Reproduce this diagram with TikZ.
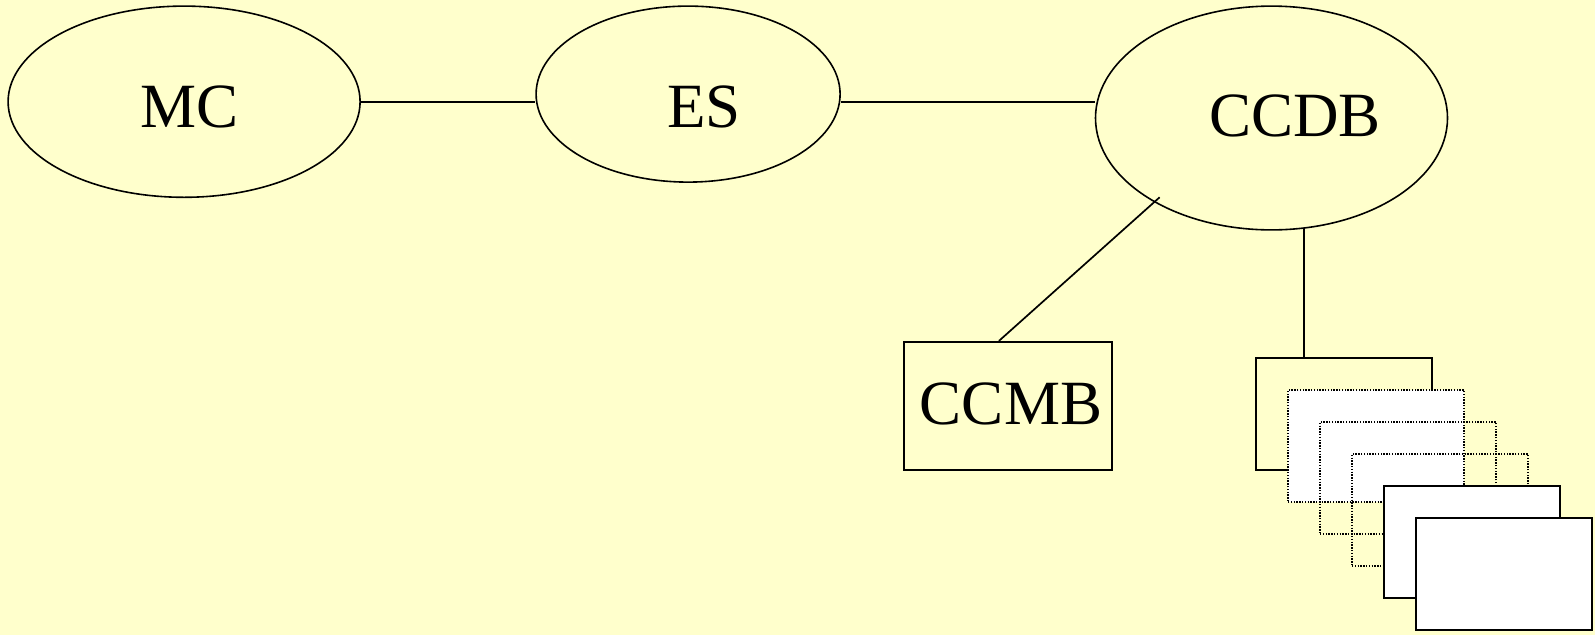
\documentclass[tikz,border=0pt]{standalone}
\usepackage{fontspec}
\setmainfont{Liberation Serif}
\usetikzlibrary{shapes.geometric,calc}
\definecolor{bg}{HTML}{FFFFCC}
\begin{document}
\begin{tikzpicture}[x=1pt,y=-1pt,
  ell/.style={draw,ellipse,line width=1.6pt,inner sep=0pt},
  lbl/.style={anchor=base,inner sep=0pt,font=\fontsize{63}{63}\selectfont},
  conn/.style={line width=1.7pt},
  box/.style={draw,rectangle,line width=1.8pt,inner sep=0pt,minimum width=176pt,minimum height=112pt},
  dotbox/.style={box,line width=1.6pt,dash pattern=on 1.4pt off 1.4pt}]
\fill[bg] (0,0) rectangle (1595,635);
\useasboundingbox (0,0) rectangle (1595,635);
% ellipses
\node[ell,minimum width=352pt,minimum height=191.2pt] (MC) at (184.1,101.7) {};
\node[ell,minimum width=304pt,minimum height=176pt] (ES) at (688.1,94.1) {};
\node[ell,minimum width=352pt,minimum height=223.8pt] (CCDB) at (1271.5,118) {};
\node[lbl] (tMC) at (189.2,127) {MC};
\node[lbl] (tES) at (703.9,127) {ES};
\node[lbl] (tCCDB) at (1295,136.3) {CCDB};
% CCMB box
\node[draw,rectangle,line width=1.8pt,inner sep=0pt,minimum width=207.5pt,minimum height=128.2pt] (CCMB) at (1008,405.9) {};
\node[lbl] (tCCMB) at (1011,424) {CCMB};
% stacked boxes
\node[box] (A) at (1344,414) {};
\node[dotbox,fill=white] (B) at (1376,446) {};
\node[dotbox] (C) at (1408,478) {};
\node[dotbox] (D) at (1440,510) {};
\node[box,fill=white] (E) at (1472,542) {};
\node[box,fill=white] (F) at (1504,574) {};
% connectors
\draw[conn] (MC.east) -- (ES.west |- MC.east);
\draw[conn] (ES.east |- MC.east) -- (CCDB.west |- MC.east);
\coordinate (d1) at (1159.6,197.3);
\draw[conn] ($(CCMB.north west)+(95.6,0)$) -- (d1);
\coordinate (v1) at (1304,228);
\draw[conn] (v1) -- (v1 |- A.north);
\end{tikzpicture}
\end{document}
